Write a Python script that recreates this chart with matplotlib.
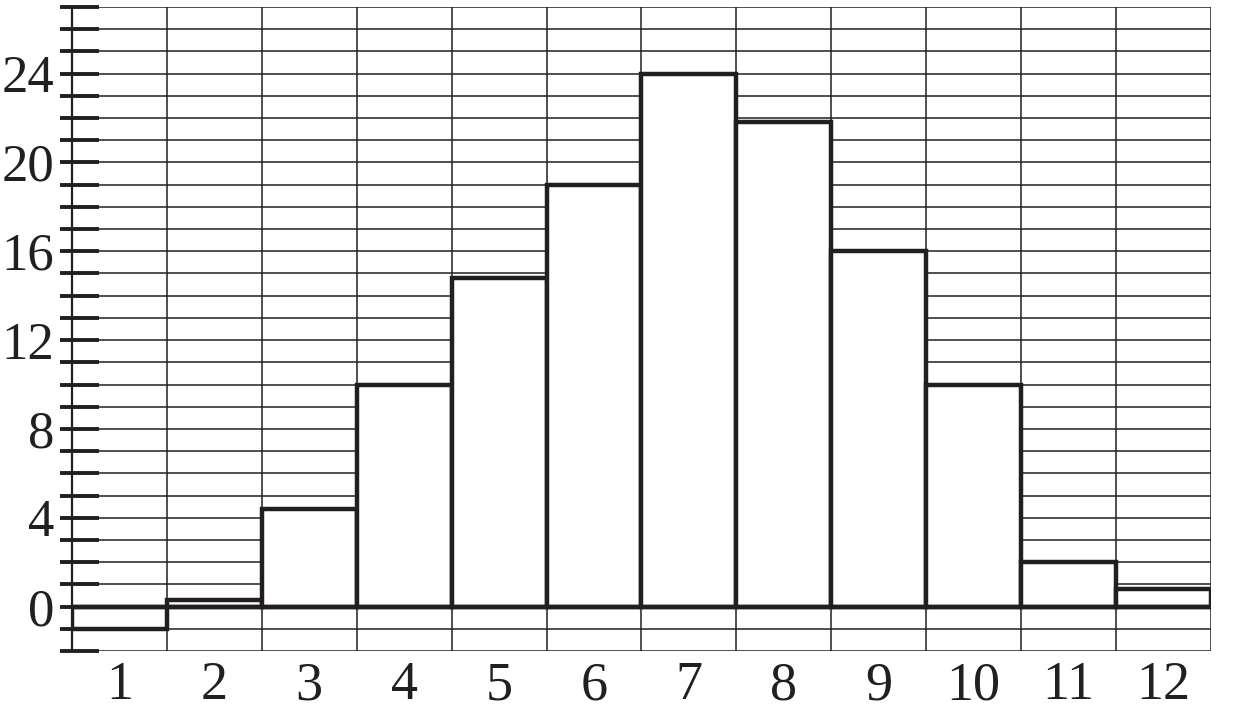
import matplotlib
matplotlib.use("Agg")
import matplotlib.pyplot as plt
from matplotlib.ticker import FixedLocator, NullFormatter

categories = ["1", "2", "3", "4", "5", "6", "7", "8", "9", "10", "11", "12"]
values = [-1.0, 0.3, 4.4, 10.0, 14.8, 19.0, 24.0, 21.8, 16.0, 10.0, 2.0, 0.8]
ytick_labels = [0, 4, 8, 12, 16, 20, 24]
y_min, y_max = -2, 27

W, H, DPI = 12.41, 7.2, 100
plt.rcParams["font.family"] = ["Liberation Serif", "DejaVu Serif"]
fig = plt.figure(figsize=(W, H), dpi=DPI)
L, R, B, T = 72, 1211, 651, 7
ax = fig.add_axes([L / 1241, (720 - B) / 720, (R - L) / 1241, (B - T) / 720])

ink = "#231f20"

x = list(range(1, len(categories) + 1))
ax.set_xlim(0.5, len(categories) + 0.5)
ax.set_ylim(y_min, y_max)

# grid
for yy in range(y_min, y_max + 1):
    ax.axhline(yy, color=ink, lw=1.1, zorder=1)
for i in range(len(categories) + 1):
    ax.axvline(0.5 + i, color=ink, lw=1.1, zorder=1)

ax.bar(x, values, width=1.0, facecolor="white", edgecolor=ink, linewidth=3.2, zorder=2)
ax.axhline(0, color=ink, lw=3.2, zorder=3)

for s in ["top", "right", "bottom"]:
    ax.spines[s].set_visible(False)
ax.spines["left"].set_linewidth(1.6)
ax.spines["left"].set_color(ink)
ax.spines["left"].set_zorder(4)

all_y = list(range(y_min, y_max + 1))
ax.yaxis.remove_overlapping_locs = False
ax.yaxis.set_major_locator(FixedLocator(all_y))
ax.set_yticklabels([str(v) if v in ytick_labels else "" for v in all_y])
ax.yaxis.set_minor_locator(FixedLocator(all_y))
ax.yaxis.set_minor_formatter(NullFormatter())
ax.tick_params(axis="y", which="major", direction="in", length=19.5, width=2.8,
               color=ink, labelsize=38, labelcolor=ink, pad=13)
ax.tick_params(axis="y", which="minor", direction="out", length=9, width=2.8, color=ink)

ax.set_xticks(x)
ax.set_xticklabels(categories, fontsize=39, color=ink)
ax.tick_params(axis="x", length=0, pad=7)

fig.savefig("out.png", dpi=DPI)
